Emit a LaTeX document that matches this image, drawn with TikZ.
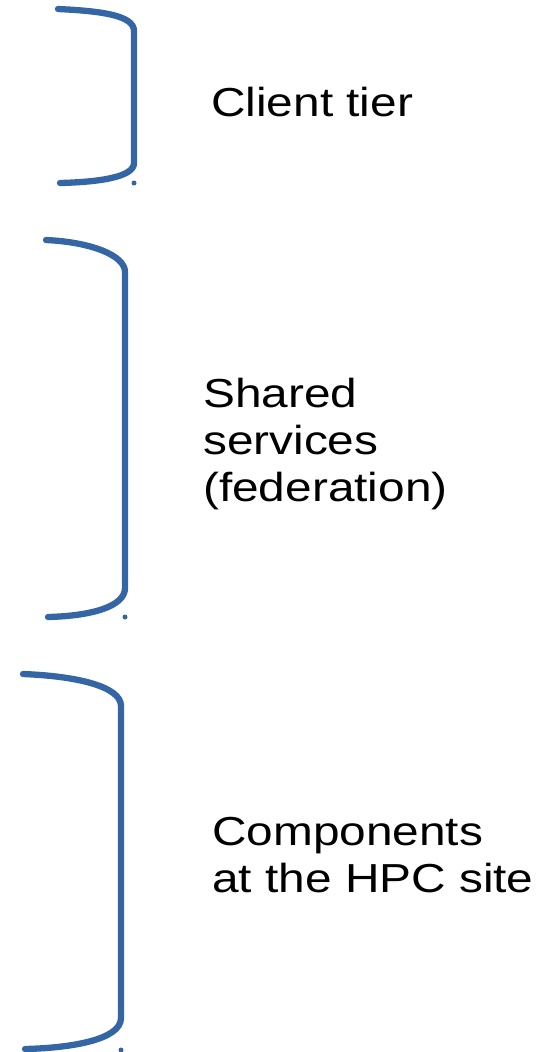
\documentclass[tikz,border=0pt]{standalone}
\usepackage{fontspec}
\setmainfont{Liberation Sans}[FakeStretch=1.18]
\definecolor{tierblue}{RGB}{52,101,164}
\tikzset{
    tierbrace/.style={draw=tierblue,line width=6.3pt,line cap=round},
    tierdot/.style={fill=tierblue},
    tierlabel/.style={inner sep=0pt,anchor=base west,align=left,font=\fontsize{40.5}{47}\selectfont},
}

\begin{document}
\begin{tikzpicture}[x=1pt,y=-1pt]
\useasboundingbox (0,0) rectangle (549,1052);
% client tier
\draw[tierbrace] (58,9) .. controls (100,11) and (134,15) .. (134,31) -- (134,163) .. controls (134,177) and (100,182) .. (60,183);
\fill[tierdot] (134,183) circle (2.5pt);
\node[tierlabel] (client) at (211,116) {Client tier};
% shared services (base = last line)
\draw[tierbrace] (46,240) .. controls (90,242) and (125,255) .. (125,272) -- (125,588) .. controls (125,607) and (90,616) .. (48,617);
\fill[tierdot] (125,617) circle (2.5pt);
\node[tierlabel] (shared) at (203,501) {Shared\\services\\(federation)};
% hpc site
\draw[tierbrace] (23,674) .. controls (75,676) and (121,686) .. (121,706) -- (121,1018) .. controls (121,1040) and (70,1048) .. (25,1049);
\fill[tierdot] (121,1050) circle (2.5pt);
\node[tierlabel] (hpc) at (212,892) {Components\\at the HPC site};
\end{tikzpicture}
\end{document}
